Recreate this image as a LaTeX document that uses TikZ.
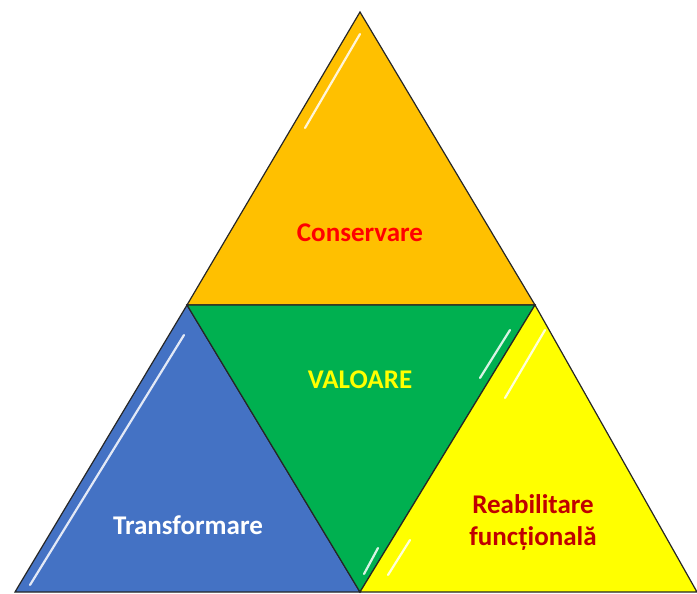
\documentclass[tikz,border=0pt]{standalone}
\usepackage{fontspec}
\setmainfont{Carlito}
\usepackage{xcolor}
\definecolor{orangec}{HTML}{FFC000}
\definecolor{greenv}{HTML}{00B050}
\definecolor{bluet}{HTML}{4472C4}
\definecolor{yellowr}{HTML}{FFFF00}
\definecolor{darkred}{HTML}{C00000}

\begin{document}
\begin{tikzpicture}[x=1pt,y=-1pt]
	\tikzstyle{tri}=[draw=black!85, line width=1.2pt, line join=miter]
	\tikzstyle{shine}=[white, line width=2.2pt, line cap=round, opacity=0.85]
	\tikzstyle{lbl}=[font=\fontsize{27}{32}\selectfont\bfseries, align=center]
	\useasboundingbox (0,0) rectangle (697,594);
	% corners of the big triangle
	\coordinate (top) at (360,12);
	\coordinate (ml) at (187,305);
	\coordinate (mr) at (535,305);
	\coordinate (bl) at (15,592);
	\coordinate (bm) at (360,592);
	\coordinate (br) at (697,592);
	% the four parts
	\filldraw[tri, fill=orangec] (top) -- (ml) -- (mr) -- cycle;
	\filldraw[tri, fill=bluet] (ml) -- (bl) -- (bm) -- cycle;
	\filldraw[tri, fill=greenv] (ml) -- (mr) -- (bm) -- cycle;
	\filldraw[tri, fill=yellowr] (mr) -- (bm) -- (br) -- cycle;
	% gloss
	\draw[shine] (360,34) -- (305,128);
	\draw[shine] (184,335) -- (30,585);
	\draw[shine] (510,330) -- (480,378);
	\draw[shine] (378,548) -- (364,574);
	\draw[shine] (545,330) -- (505,398);
	\draw[shine] (410,540) -- (388,575);
	% labels
	\node[lbl, text=red] (cons) at (360,233) {Conservare};
	\node[lbl, text=yellowr] (val) at (360,380) {VALOARE};
	\node[lbl, text=white] (trans) at (188,525) {Transformare};
	\node[lbl, text=darkred] (reab) at (533,522) {Reabilitare\\funcțională};
\end{tikzpicture}
\end{document}
